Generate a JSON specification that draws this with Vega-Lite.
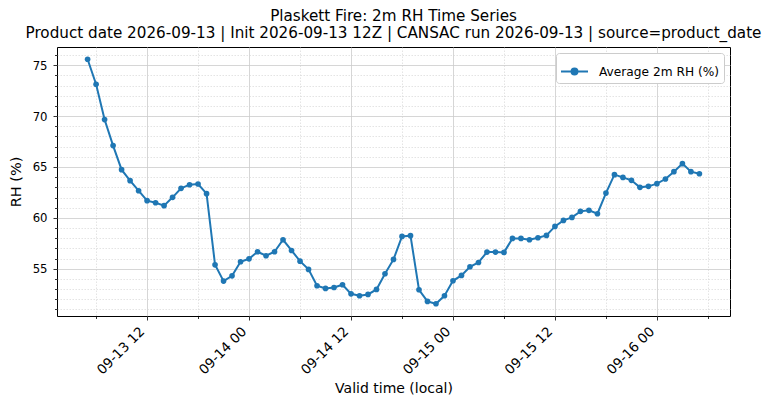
{
  "$schema": "https://vega.github.io/schema/vega-lite/v6.json",
  "width": 673,
  "height": 269,
  "autosize": {"type": "none"},
  "padding": {"left": 57, "top": 47, "right": 45, "bottom": 93},
  "title": {
    "text": ["Plaskett Fire: 2m RH Time Series", "Product date 2026-09-13 | Init 2026-09-13 12Z | CANSAC run 2026-09-13 | source=product_date"],
    "font": "DejaVu Sans", "fontSize": 15.2, "fontWeight": "normal", "lineHeight": 17,
    "anchor": "middle", "offset": 6, "color": "black"
  },
  "data": {"values": [
    {"time": "2026-09-13T05:00", "rh": 75.59},
    {"time": "2026-09-13T06:00", "rh": 73.13},
    {"time": "2026-09-13T07:00", "rh": 69.66},
    {"time": "2026-09-13T08:00", "rh": 67.10},
    {"time": "2026-09-13T09:00", "rh": 64.74},
    {"time": "2026-09-13T10:00", "rh": 63.66},
    {"time": "2026-09-13T11:00", "rh": 62.67},
    {"time": "2026-09-13T12:00", "rh": 61.69},
    {"time": "2026-09-13T13:00", "rh": 61.49},
    {"time": "2026-09-13T14:00", "rh": 61.20},
    {"time": "2026-09-13T15:00", "rh": 62.02},
    {"time": "2026-09-13T16:00", "rh": 62.90},
    {"time": "2026-09-13T17:00", "rh": 63.26},
    {"time": "2026-09-13T18:00", "rh": 63.33},
    {"time": "2026-09-13T19:00", "rh": 62.38},
    {"time": "2026-09-13T20:00", "rh": 55.39},
    {"time": "2026-09-13T21:00", "rh": 53.79},
    {"time": "2026-09-13T22:00", "rh": 54.31},
    {"time": "2026-09-13T23:00", "rh": 55.69},
    {"time": "2026-09-14T00:00", "rh": 55.98},
    {"time": "2026-09-14T01:00", "rh": 56.67},
    {"time": "2026-09-14T02:00", "rh": 56.28},
    {"time": "2026-09-14T03:00", "rh": 56.67},
    {"time": "2026-09-14T04:00", "rh": 57.85},
    {"time": "2026-09-14T05:00", "rh": 56.80},
    {"time": "2026-09-14T06:00", "rh": 55.75},
    {"time": "2026-09-14T07:00", "rh": 54.94},
    {"time": "2026-09-14T08:00", "rh": 53.33},
    {"time": "2026-09-14T09:00", "rh": 53.07},
    {"time": "2026-09-14T10:00", "rh": 53.16},
    {"time": "2026-09-14T11:00", "rh": 53.43},
    {"time": "2026-09-14T12:00", "rh": 52.54},
    {"time": "2026-09-14T13:00", "rh": 52.35},
    {"time": "2026-09-14T14:00", "rh": 52.48},
    {"time": "2026-09-14T15:00", "rh": 52.97},
    {"time": "2026-09-14T16:00", "rh": 54.51},
    {"time": "2026-09-14T17:00", "rh": 55.92},
    {"time": "2026-09-14T18:00", "rh": 58.18},
    {"time": "2026-09-14T19:00", "rh": 58.25},
    {"time": "2026-09-14T20:00", "rh": 52.94},
    {"time": "2026-09-14T21:00", "rh": 51.79},
    {"time": "2026-09-14T22:00", "rh": 51.56},
    {"time": "2026-09-14T23:00", "rh": 52.35},
    {"time": "2026-09-15T00:00", "rh": 53.82},
    {"time": "2026-09-15T01:00", "rh": 54.35},
    {"time": "2026-09-15T02:00", "rh": 55.20},
    {"time": "2026-09-15T03:00", "rh": 55.62},
    {"time": "2026-09-15T04:00", "rh": 56.64},
    {"time": "2026-09-15T05:00", "rh": 56.64},
    {"time": "2026-09-15T06:00", "rh": 56.61},
    {"time": "2026-09-15T07:00", "rh": 57.98},
    {"time": "2026-09-15T08:00", "rh": 57.98},
    {"time": "2026-09-15T09:00", "rh": 57.85},
    {"time": "2026-09-15T10:00", "rh": 58.05},
    {"time": "2026-09-15T11:00", "rh": 58.28},
    {"time": "2026-09-15T12:00", "rh": 59.16},
    {"time": "2026-09-15T13:00", "rh": 59.75},
    {"time": "2026-09-15T14:00", "rh": 60.05},
    {"time": "2026-09-15T15:00", "rh": 60.64},
    {"time": "2026-09-15T16:00", "rh": 60.74},
    {"time": "2026-09-15T17:00", "rh": 60.41},
    {"time": "2026-09-15T18:00", "rh": 62.44},
    {"time": "2026-09-15T19:00", "rh": 64.25},
    {"time": "2026-09-15T20:00", "rh": 63.98},
    {"time": "2026-09-15T21:00", "rh": 63.69},
    {"time": "2026-09-15T22:00", "rh": 63.00},
    {"time": "2026-09-15T23:00", "rh": 63.10},
    {"time": "2026-09-16T00:00", "rh": 63.36},
    {"time": "2026-09-16T01:00", "rh": 63.82},
    {"time": "2026-09-16T02:00", "rh": 64.54},
    {"time": "2026-09-16T03:00", "rh": 65.33},
    {"time": "2026-09-16T04:00", "rh": 64.54},
    {"time": "2026-09-16T05:00", "rh": 64.34}
  ]},
  "layer": [
    {
      "mark": {"type": "point", "opacity": 0},
      "encoding": {
        "x": {
          "field": "time", "type": "temporal",
          "scale": {"domain": [
            {"year": 2026, "month": 9, "date": 13, "hours": 1, "minutes": 24},
            {"year": 2026, "month": 9, "date": 16, "hours": 8, "minutes": 36}
          ]},
          "axis": {
            "orient": "bottom", "title": null, "labels": false, "domain": false,
            "values": [
              {"year": 2026, "month": 9, "date": 13, "hours": 6},
              {"year": 2026, "month": 9, "date": 13, "hours": 18},
              {"year": 2026, "month": 9, "date": 14, "hours": 6},
              {"year": 2026, "month": 9, "date": 14, "hours": 18},
              {"year": 2026, "month": 9, "date": 15, "hours": 6},
              {"year": 2026, "month": 9, "date": 15, "hours": 18},
              {"year": 2026, "month": 9, "date": 16, "hours": 6}
            ],
            "tickSize": 2.5, "tickColor": "black", "tickWidth": 0.8,
            "grid": true, "gridColor": "#d8d8d8", "gridDash": [1.5, 1.5], "gridWidth": 0.7
          }
        },
        "y": {
          "field": "rh", "type": "quantitative",
          "scale": {"domain": [50.36, 76.79], "nice": false, "zero": false},
          "axis": {
            "orient": "left", "title": null, "labels": false, "domain": false,
            "values": [51, 52, 53, 54, 56, 57, 58, 59, 61, 62, 63, 64, 66, 67, 68, 69, 71, 72, 73, 74, 76],
            "tickSize": 2.5, "tickColor": "black", "tickWidth": 0.8,
            "grid": true, "gridColor": "#d8d8d8", "gridDash": [1.5, 1.5], "gridWidth": 0.7
          }
        }
      }
    },
    {
      "mark": {"type": "line", "strokeWidth": 2, "point": {"filled": true, "size": 32}},
      "encoding": {
        "x": {
          "field": "time", "type": "temporal",
          "axis": {
            "orient": "bottom", "domain": false,
            "values": [
              {"year": 2026, "month": 9, "date": 13, "hours": 12},
              {"year": 2026, "month": 9, "date": 14, "hours": 0},
              {"year": 2026, "month": 9, "date": 14, "hours": 12},
              {"year": 2026, "month": 9, "date": 15, "hours": 0},
              {"year": 2026, "month": 9, "date": 15, "hours": 12},
              {"year": 2026, "month": 9, "date": 16, "hours": 0}
            ],
            "format": "%m-%d %H",
            "labelAngle": -45, "labelAlign": "right", "labelBaseline": "middle",
            "labelOffset": -5, "labelPadding": 9, "labelOverlap": false, "labelFlush": false,
            "labelFontSize": 13.5,
            "tickSize": 4, "tickColor": "black", "tickWidth": 0.8,
            "grid": true, "gridColor": "#cccccc", "gridWidth": 0.8,
            "title": "Valid time (local)", "titleFontSize": 14,
            "titleY": 72, "titleBaseline": "middle"
          }
        },
        "y": {
          "field": "rh", "type": "quantitative",
          "axis": {
            "orient": "left", "domain": false,
            "values": [55, 60, 65, 70, 75],
            "labelFontSize": 11.7, "labelPadding": 6,
            "tickSize": 4, "tickColor": "black", "tickWidth": 0.8,
            "grid": true, "gridColor": "#cccccc", "gridWidth": 0.8,
            "title": "RH (%)", "titleFontSize": 14.5,
            "titleX": -41, "titleY": 134.5, "titleAlign": "center", "titleBaseline": "middle"
          }
        },
        "color": {
          "datum": "Average 2m RH (%)",
          "scale": {"range": ["#1f77b4"]},
          "legend": {
            "title": null, "orient": "top-right", "offset": 6, "padding": 4,
            "strokeColor": "#cccccc", "fillColor": "white", "cornerRadius": 3,
            "symbolType": "M-1,0L1,0M0.22,0A0.22,0.22,0,1,1,-0.22,0A0.22,0.22,0,1,1,0.22,0Z",
            "symbolSize": 729, "symbolStrokeWidth": 2,
            "labelFontSize": 12.2, "labelOffset": 10, "labelColor": "black",
            "encode": {"symbols": {"update": {
              "fill": {"value": "#1f77b4"}, "stroke": {"value": "#1f77b4"},
              "strokeWidth": {"value": 2}, "opacity": {"value": 1}
            }}}
          }
        }
      }
    }
  ],
  "resolve": {"axis": {"x": "independent", "y": "independent"}},
  "config": {
    "font": "DejaVu Sans",
    "view": {"stroke": "black", "strokeWidth": 1},
    "axis": {
      "labelFont": "DejaVu Sans", "titleFont": "DejaVu Sans",
      "labelColor": "black", "titleColor": "black", "titleFontWeight": "normal"
    },
    "legend": {"labelFont": "DejaVu Sans"}
  }
}
